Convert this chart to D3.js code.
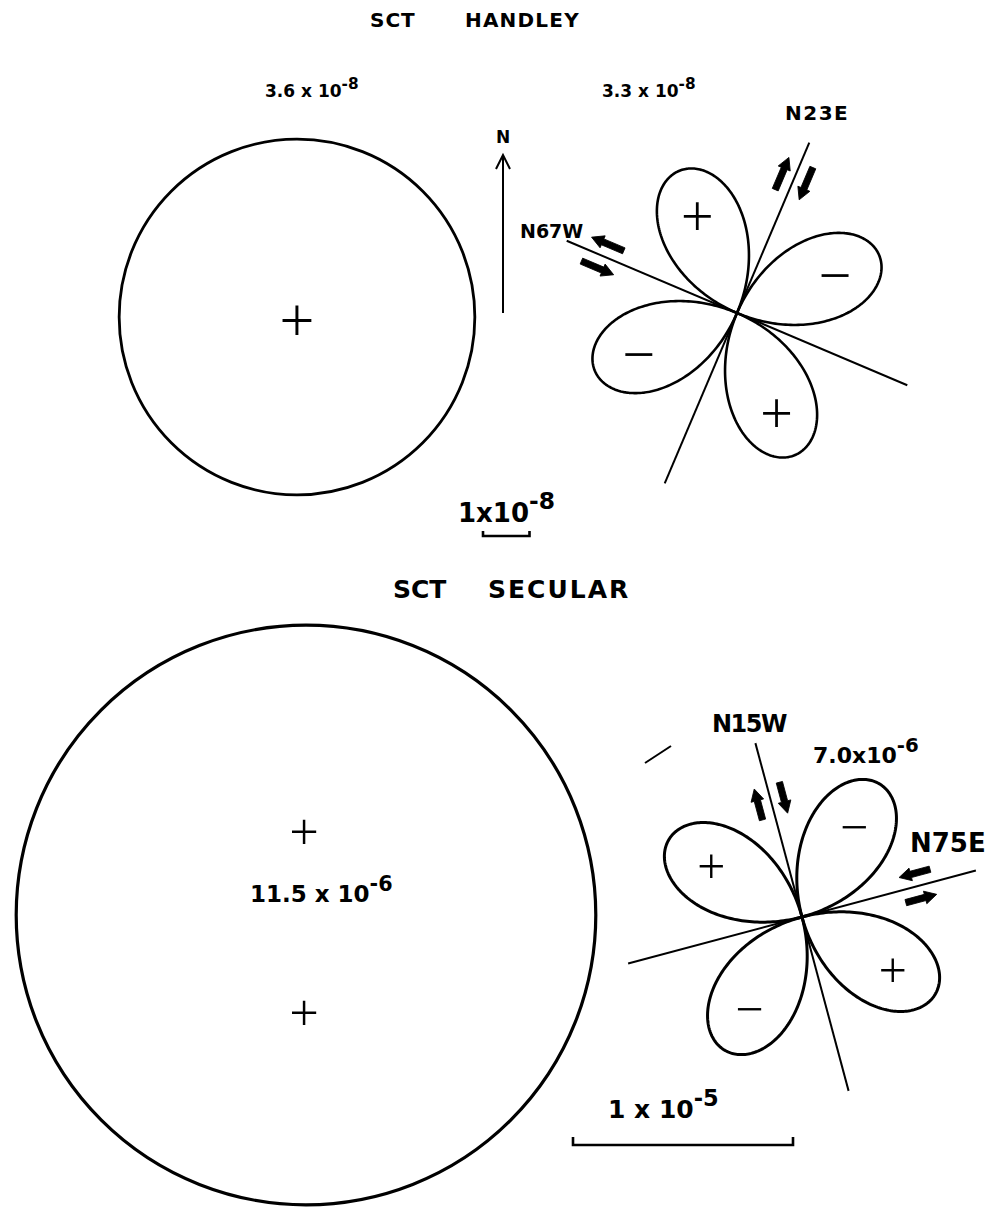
<!DOCTYPE html>
<html>
<head>
<meta charset="utf-8">
<script src="https://cdn.jsdelivr.net/npm/d3@7"></script>
<style>
  html, body { margin: 0; padding: 0; background: #fff; }
  svg { display: block; }
  text { font-family: "DejaVu Sans", sans-serif; font-weight: bold; fill: #000; }
  .sign { font-family: "Noto Sans", "DejaVu Sans", sans-serif; font-weight: 300; }
</style>
</head>
<body>
<svg id="chart" width="997" height="1207"></svg>
<script>
// Strain at station SCT: Handley component (top) and secular component (bottom)
const panelTitles   = [["SCT", "HANDLEY"], ["SCT", "SECULAR"]];
const dilatation    = [3.6, 11.5];              // areal dilatation (mantissa)
const dilatationExp = ["-8", "-6"];
const maxShear      = [3.3, 7.0];               // maximum shear strain (mantissa)
const maxShearExp   = ["-8", "-6"];
const shearPlanes   = [[23, -67], [-15, 75]];   // azimuths of the planes, degrees from N
const planeLabels   = [["N23E", "N67W"], ["N15W", "N75E"]];
const planeSense    = [[-1, 1], [-1, 1]];       // arrow direction on the right-hand side of each plane
const lobeSigns     = [["+", "\u2212", "+", "\u2212"], ["+", "\u2212", "+", "\u2212"]];
const scaleBarValue = [1, 10];                  // bar length in the panel's mantissa units
const scaleBarText  = [["1x10", "-8"], ["1 x 10", "-5"]];

// Drawing layout of each panel
const layout = [
  {
    title: { y: 27, size: 20, xs: [370, 465], spacing: [1, 1.2] },
    circle: [297, 317], dilPx: 49.4, stroke: 2.8,
    pluses: [[0, 1]], plusSize: 62,
    dilLabel: { x: 265, y: 97, size: 17, anchor: "start" },
    rose: [737, 313], shearPx: 46.5, lineHalf: 185, lineW: 2, lobeW: 2.6,
    arrowAlong: 146, arrowOff: 13, arrowLen: 35,
    shearLabel: { x: 602, y: 97, size: 17, anchor: "start" },
    planeLabel: [{ x: 785, y: 120, size: 20, sp: 1.5 }, { x: 520, y: 238, size: 19, sp: 0 }],
    signSize: 58, signDist: 0.69,
    bar: { x: 483, y: 536, tick: 5 },
    barLabel: { x: 458, y: 522, size: 26 }
  },
  {
    title: { y: 598, size: 25, xs: [393, 488], spacing: [0, 2] },
    circle: [306, 915], dilPx: 25.2, stroke: 3.2,
    pluses: [[-2, -86], [-2, 95]], plusSize: 52,
    dilLabel: { x: 250, y: 902, size: 23, anchor: "start" },
    rose: [802, 917], shearPx: 22, lineHalf: 180, lineW: 2, lobeW: 3,
    arrowAlong: 120, arrowOff: 13, arrowLen: 32,
    shearLabel: { x: 813, y: 763, size: 22, anchor: "start" },
    planeLabel: [{ x: 712, y: 732, size: 24, sp: -1.5 }, { x: 910, y: 852, size: 26, sp: 0 }],
    signSize: 50, signDist: 0.68,
    bar: { x: 573, y: 1145, tick: 8 },
    barLabel: { x: 608, y: 1118, size: 25 }
  }
];

const svg = d3.select("#chart");
const rad = d => d * Math.PI / 180;
const unitVec = az => [Math.sin(rad(az)), -Math.cos(rad(az))];

// number with a raised exponent, e.g. 3.6 x 10^-8
function sciText(g, pos, base, exp) {
  const t = g.append("text")
    .attr("x", pos.x).attr("y", pos.y)
    .attr("font-size", pos.size)
    .attr("text-anchor", pos.anchor || "start");
  t.append("tspan").text(base);
  t.append("tspan").attr("dy", -pos.size * 0.5).attr("font-size", pos.size * 0.9).text(exp);
  return t;
}

const fmt = v => v.toFixed(1);

layout.forEach((L, i) => {
  const g = svg.append("g");
  const dilScale = d3.scaleLinear().domain([0, 1]).range([0, L.dilPx]);
  const shearScale = d3.scaleLinear().domain([0, 1]).range([0, L.shearPx]);

  // title
  panelTitles[i].forEach((w, k) => {
    g.append("text").attr("x", L.title.xs[k]).attr("y", L.title.y)
      .attr("font-size", L.title.size).attr("letter-spacing", L.title.spacing[k]).text(w);
  });

  // dilatation circle
  g.append("circle")
    .attr("cx", L.circle[0]).attr("cy", L.circle[1])
    .attr("r", dilScale(dilatation[i]))
    .attr("fill", "none").attr("stroke", "#000").attr("stroke-width", L.stroke);
  L.pluses.forEach(p => {
    g.append("text").attr("class", "sign")
      .attr("x", L.circle[0] + p[0]).attr("y", L.circle[1] + p[1])
      .attr("font-size", L.plusSize).attr("text-anchor", "middle")
      .attr("dominant-baseline", "central").text("+");
  });
  sciText(g, L.dilLabel, fmt(dilatation[i]) + " x 10", dilatationExp[i]);

  // shear strain rosette
  const rg = g.append("g").attr("transform", `translate(${L.rose[0]},${L.rose[1]})`);
  const A = maxShear[i];
  const lobe = d3.lineRadial()
    .angle(d => rad(d.az))
    .radius(d => shearScale(d.v))
    .curve(d3.curveLinear);
  const axes = d3.range(4).map(k => shearPlanes[i][0] - 45 + 90 * k);
  axes.forEach((ax, k) => {
    const pts = d3.range(-45, 45.01, 0.5).map(t => ({ az: ax + t, v: A * Math.cos(rad(2 * t)) }));
    rg.append("path").attr("d", lobe(pts))
      .attr("fill", "none").attr("stroke", "#000")
      .attr("stroke-width", L.lobeW).attr("stroke-linejoin", "round");
    const u = unitVec(ax);
    const d = shearScale(A * L.signDist);
    rg.append("text").attr("class", "sign")
      .attr("x", u[0] * d).attr("y", u[1] * d)
      .attr("font-size", L.signSize).attr("text-anchor", "middle")
      .attr("dominant-baseline", "central").text(lobeSigns[i][k]);
  });

  // planes of maximum shear with their sense arrows
  shearPlanes[i].forEach((az, k) => {
    const u = unitVec(az);
    const p = [-u[1], u[0]];
    rg.append("line")
      .attr("x1", -u[0] * L.lineHalf).attr("y1", -u[1] * L.lineHalf)
      .attr("x2", u[0] * L.lineHalf).attr("y2", u[1] * L.lineHalf)
      .attr("stroke", "#000").attr("stroke-width", L.lineW);
    const len = L.arrowLen, hl = 12;
    const shape = [[-len / 2, -3.2], [len / 2 - hl, -3.2], [len / 2 - hl, -6.5], [len / 2, 0],
                   [len / 2 - hl, 6.5], [len / 2 - hl, 3.2], [-len / 2, 3.2]];
    [1, -1].forEach(side => {
      const dir = planeSense[i][k] * side;
      const cx = u[0] * L.arrowAlong + p[0] * L.arrowOff * side;
      const cy = u[1] * L.arrowAlong + p[1] * L.arrowOff * side;
      const ang = Math.atan2(u[1] * dir, u[0] * dir) * 180 / Math.PI;
      rg.append("polygon")
        .attr("points", shape.map(s => s.join(",")).join(" "))
        .attr("transform", `translate(${cx},${cy}) rotate(${ang})`)
        .attr("fill", "#000").attr("stroke", "#000").attr("stroke-width", 0.8)
        .attr("stroke-linejoin", "round");
    });
    const pl = L.planeLabel[k];
    g.append("text").attr("x", pl.x).attr("y", pl.y)
      .attr("font-size", pl.size).attr("letter-spacing", pl.sp).text(planeLabels[i][k]);
  });
  sciText(g, L.shearLabel, fmt(maxShear[i]) + (i === 0 ? " x 10" : "x10"), maxShearExp[i]);

  // scale bar
  const bw = shearScale(scaleBarValue[i]);
  g.append("path")
    .attr("d", `M${L.bar.x},${L.bar.y - L.bar.tick}V${L.bar.y}H${L.bar.x + bw}V${L.bar.y - L.bar.tick}`)
    .attr("fill", "none").attr("stroke", "#000").attr("stroke-width", 2.6);
  sciText(g, { x: L.barLabel.x, y: L.barLabel.y, size: L.barLabel.size }, scaleBarText[i][0], scaleBarText[i][1]);
});

// north arrow
const north = svg.append("g").attr("stroke", "#000").attr("stroke-width", 2).attr("fill", "none");
north.append("line").attr("x1", 503).attr("y1", 313).attr("x2", 503).attr("y2", 156);
north.append("path").attr("d", "M496,169L503,155L510,169");
svg.append("text").attr("x", 503).attr("y", 143).attr("font-size", 17)
  .attr("text-anchor", "middle").text("N");

// small pen stroke near the secular rosette
svg.append("line").attr("x1", 645).attr("y1", 763).attr("x2", 671).attr("y2", 746)
  .attr("stroke", "#000").attr("stroke-width", 2);
</script>
</body>
</html>
